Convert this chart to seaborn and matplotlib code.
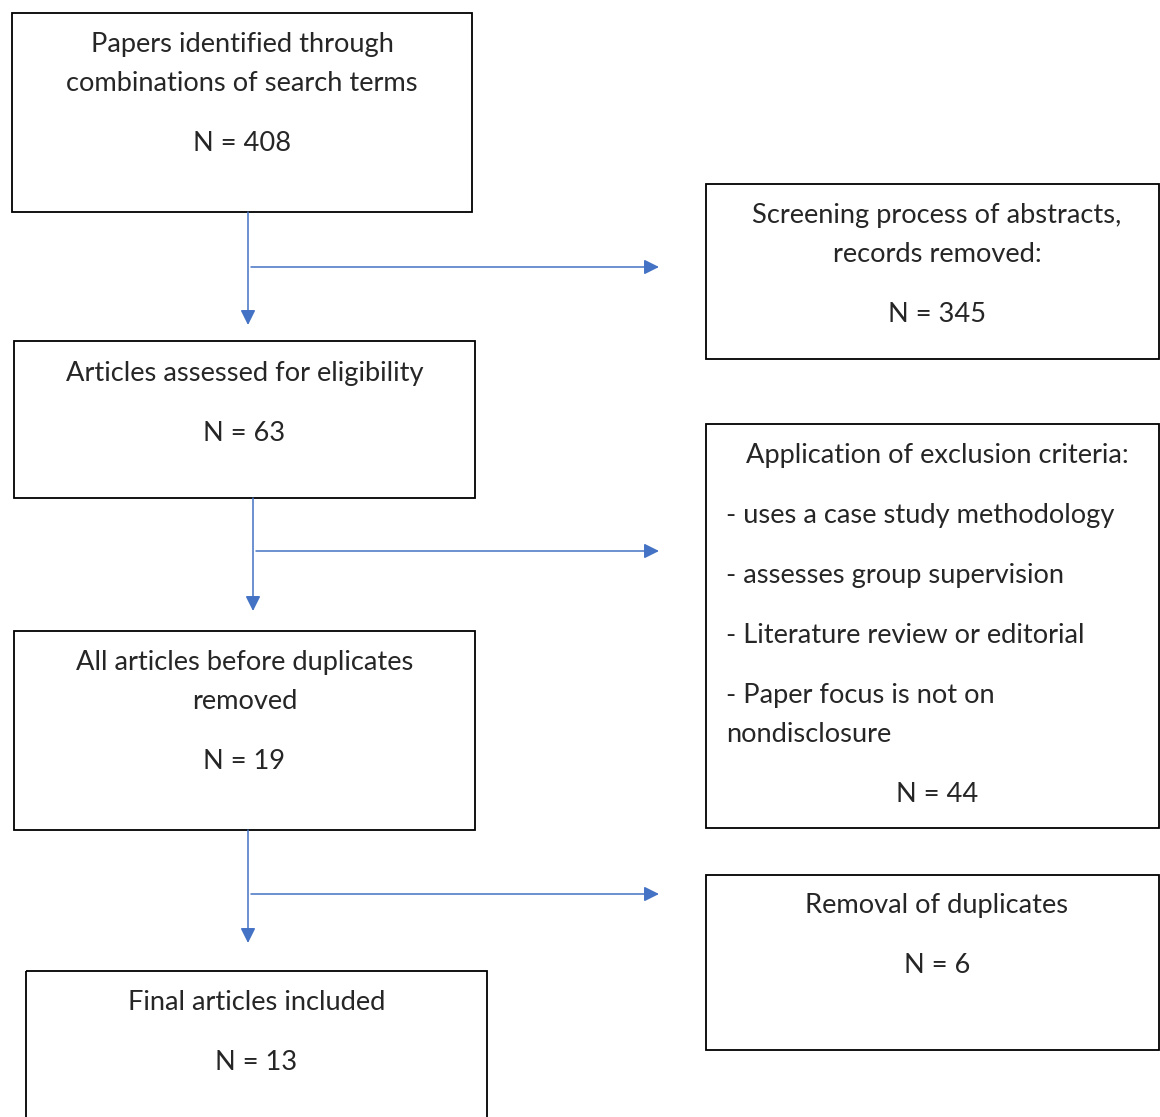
import matplotlib.pyplot as plt
import seaborn as sns
from matplotlib.patches import Rectangle

# Texto de las cajas del diagrama de flujo
mainTitles = [
    ["Papers identified through", "combinations of search terms"],
    ["Articles assessed for eligibility"],
    ["All articles before duplicates", "removed"],
    ["Final articles included"],
]
mainCounts = [408, 63, 19, 13]

sideTitles = [
    ["Screening process of abstracts,", "records removed:"],
    ["Application of exclusion criteria:"],
    ["Removal of duplicates"],
]
sideCounts = [345, 44, 6]
criteria = [
    "- uses a case study methodology",
    "- assesses group supervision",
    "- Literature review or editorial",
    "- Paper focus is not on",
    "nondisclosure",
]

# Geometria en pixeles: (x0, y0, x1, y1), primera linea base, centro x
mainBoxes = [(12, 13, 472, 212), (14, 341, 475, 498), (14, 631, 475, 830), (26, 971, 487, 1130)]
mainFirst = [52, 381, 670, 1010]
mainArrowX = [248, 253, 248]
sideBoxes = [(706, 184, 1159, 359), (706, 424, 1159, 828), (706, 875, 1159, 1050)]
sideFirst = [223, 463, 913]
sideArrowY = [267, 551, 894]

blue = "#4472C4"
lineGap = 39
countGap = 60

sns.set_style("white")
plt.rcParams["font.family"] = ["Lato", "DejaVu Sans"]

fig = plt.figure(figsize=(11.6, 11.17), dpi=100)
ax = fig.add_axes([0, 0, 1, 1])
ax.set_xlim(0, 1160)
ax.set_ylim(1117, 0)
ax.axis("off")

fs = 19.6


def drawBox(box, lines, count, firstY, cx):
    x0, y0, x1, y1 = box
    ax.add_patch(Rectangle((x0, y0), x1 - x0, y1 - y0, fill=False, ec="black", lw=1.3))
    y = firstY
    for i, line in enumerate(lines):
        if i > 0:
            y += lineGap
        ax.text(cx, y, line, ha="center", va="baseline", fontsize=fs)
    ax.text(cx, y + countGap, "N = {}".format(count), ha="center", va="baseline", fontsize=fs)


for i in range(len(mainBoxes)):
    b = mainBoxes[i]
    cx = (b[0] + b[2]) / 2
    drawBox(b, mainTitles[i], mainCounts[i], mainFirst[i], cx)

# Cajas laterales
for i in [0, 2]:
    drawBox(sideBoxes[i], sideTitles[i], sideCounts[i], sideFirst[i], 937)

# Caja de criterios de exclusion
b = sideBoxes[1]
ax.add_patch(Rectangle((b[0], b[1]), b[2] - b[0], b[3] - b[1], fill=False, ec="black", lw=1.3))
ax.text(937, sideFirst[1], sideTitles[1][0], ha="center", va="baseline", fontsize=fs)
y = sideFirst[1]
for j, c in enumerate(criteria):
    y += countGap if j < 4 else lineGap
    ax.text(726, y, c, ha="left", va="baseline", fontsize=fs)
ax.text(937, y + countGap, "N = {}".format(sideCounts[1]), ha="center", va="baseline", fontsize=fs)

# Flechas
for i in range(3):
    top = mainBoxes[i][3]
    ax.annotate("", xy=(mainArrowX[i], top + 113), xytext=(mainArrowX[i], top),
                arrowprops=dict(arrowstyle="-|>,head_length=0.9,head_width=0.45", color=blue, lw=1.1,
                                shrinkA=0, shrinkB=0))
    ax.annotate("", xy=(659, sideArrowY[i]), xytext=(mainArrowX[i] + 3, sideArrowY[i]),
                arrowprops=dict(arrowstyle="-|>,head_length=0.9,head_width=0.45", color=blue, lw=1.1,
                                shrinkA=0, shrinkB=0))

plt.savefig("out.png", dpi=100)
plt.close()
